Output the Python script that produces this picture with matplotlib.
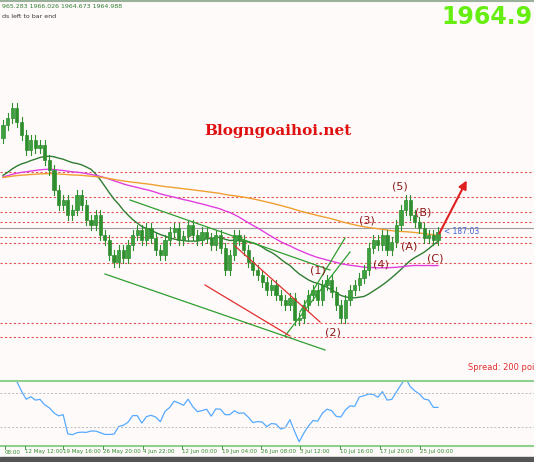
import matplotlib
matplotlib.use("Agg")
import matplotlib.pyplot as plt
import numpy as np
import pandas as pd

closes = [2018.5,2022,2027,2020,2013.5,2006,2011,2007,2008.5,2001,1996,1986,1978.5,1981,1973.5,1976,1983.5,1978.5,1971,1968.5,
          1973.5,1963.5,1961,1953.5,1950,1956,1952,1958.5,1963.5,1966,1961,1967,1962,1956,1953.5,1961,1965,1967,1961,1963,
          1968.5,1963.5,1961,1965,1962,1958.5,1963.5,1957,1946,1953.5,1963.5,1961,1956,1950,1946,1943.5,1940,1936,1938.5,1933.5,
          1931,1928.5,1932,1921,1922,1928.5,1933.5,1936,1931,1938.5,1941,1935,1928.5,1922,1931,1936,1938.5,1942,1946,1957,
          1961,1958.5,1963.5,1956,1960,1968.5,1976,1981,1973.5,1970,1967,1962,1963.5,1961,1965]
open0 = 2012
history_level = 1992
tick_px = [5, 25, 63, 103, 143, 182, 222, 261, 300, 340, 380, 420]
tick_labels = ["08:00","12 May 12:00","19 May 16:00","26 May 20:00","4 Jun 22:00","12 Jun 00:00",
               "19 Jun 04:00","26 Jun 08:00","3 Jul 12:00","10 Jul 16:00","17 Jul 20:00","25 Jul 00:00"]
levels = [1995, 1982.5, 1975, 1970, 1962.5, 1959.5, 1949.5, 1919.5, 1912.5]
current = 1967
waves = [("(1)",318,1946),("(2)",333,1915),("(3)",367,1971),("(4)",381,1949),("(5)",400,1988),
         ("(A)",409,1958),("(B)",423,1975),("(C)",435,1952)]
green_lines = [((105,1944),(325,1906)),((130,1981),(330,1946)),((285,1913),(350,1955)),((300,1925),(345,1962))]
red_lines = [((205,1938.5),(290,1913)),((235,1958),(320,1920))]

def p2price(y):
    return 2081 - y/2

W, H = 534, 462
fig = plt.figure(figsize=(W/100, H/100), dpi=100)
fig.patch.set_facecolor("#fffafa")
ax = fig.add_axes([0, (H-380)/H, 1, 372/H])
ax.set_facecolor("#fffafa")
ax.set_xlim(0, W)
ax.set_ylim(p2price(380), p2price(8))
ax.axis("off")

n = len(closes)
sp = 435/(n-1)
xs = np.array([3 + i*sp for i in range(n)])
opens = [open0] + closes[:-1]
for x, o, c in zip(xs, opens, closes):
    lo, hi = min(o, c), max(o, c)
    ax.plot([x, x], [lo-2.5, hi+2.5], color="#2f8f2f", lw=0.8, zorder=3)
    ax.add_patch(plt.Rectangle((x-1.6, lo), 3.2, max(hi-lo, 0.4), facecolor="#3fa03f" if c >= o else "#2f8f2f",
                               edgecolor="#2f8f2f", lw=0.5, zorder=4))

s = pd.Series(closes)
full = pd.concat([pd.Series([float(history_level)]*100), s], ignore_index=True)
for per, col in [(20, "#2e7d32"), (50, "#e040e0"), (100, "#f0a030")]:
    ma = full.rolling(per, min_periods=1).mean().iloc[100:].values
    ax.plot(xs, ma, color=col, lw=1, zorder=2)

for lv in levels:
    ax.axhline(lv, color="#e05050", ls=(0, (2, 2)), lw=0.8, zorder=1)
ax.axhline(current, color="#9e9e9e", lw=0.8, zorder=1)
ax.text(444, current-1.5, "< 187:03", color="#4060d0", fontsize=5.5, va="center")

for (a, b) in green_lines:
    ax.plot([a[0], b[0]], [a[1], b[1]], color="#2e9e2e", lw=0.9, zorder=5)
for (a, b) in red_lines:
    ax.plot([a[0], b[0]], [a[1], b[1]], color="#e03030", lw=0.9, zorder=5)
for t, x, y in waves:
    ax.text(x, y, t, color="#8b1a1a", fontsize=8, ha="center", va="center", zorder=6)
ax.annotate("", xy=(468, p2price(178)), xytext=(438, p2price(236)),
            arrowprops=dict(arrowstyle="-|>", color="#e02020", lw=1.5, mutation_scale=12), zorder=6)

fig.text(278/W, 1-131/H, "Blogngoaihoi.net", color="#e01010", fontsize=11, fontweight="bold",
         family="DejaVu Serif", ha="center", va="center")
fig.text(532/W, 1-17/H, "1964.9", color="#66ee11", fontsize=17, fontweight="bold", ha="right", va="center")
fig.text(2/W, 1-7/H, "965.283 1966.026 1964.673 1964.988", color="#2e7d32", fontsize=4.5, va="center")
fig.text(2/W, 1-16/H, "ds left to bar end", color="#333333", fontsize=4.5, va="center")
fig.text(468/W, 1-367/H, "Spread: 200 poi", color="#e03030", fontsize=6, va="center")
fig.add_artist(plt.Line2D([0, 1], [1-1/H, 1-1/H], color="#9ab09a", lw=1.5))
fig.add_artist(plt.Line2D([0, 1], [1-381/H, 1-381/H], color="#8fd08f", lw=1.5))
fig.add_artist(plt.Line2D([0, 1], [1-446/H, 1-446/H], color="#8fd08f", lw=1.5))

ax2 = fig.add_axes([0, (H-446)/H, 1, 65/H])
ax2.set_facecolor("#fffafa")
ax2.set_xlim(0, W)
ax2.axis("off")
d = full.diff()
up = d.clip(lower=0).rolling(14, min_periods=1).mean()
dn = (-d.clip(upper=0)).rolling(14, min_periods=1).mean()
rsi = (100 - 100/(1 + up/(dn+1e-9))).iloc[100:].values
ax2.plot(xs, rsi, color="#55aaff", lw=0.9)
ax2.set_ylim(7.6, 84)
for lv in [70, 30]:
    ax2.axhline(lv, color="#bbbbbb", ls=(0, (2, 2)), lw=0.7)

for px, lab in zip(tick_px, tick_labels):
    fig.text(px/W, 1-452/H, lab, color="#2e8b2e", fontsize=4, ha="left", va="center")
    fig.add_artist(plt.Line2D([px/W, px/W], [1-446/H, 1-449/H], color="#2e8b2e", lw=0.6))
fig.add_artist(plt.Rectangle((0, 0), 1, 5/H, color="#555555", transform=fig.transFigure))
fig.savefig("out.png", dpi=100, facecolor=fig.get_facecolor())
